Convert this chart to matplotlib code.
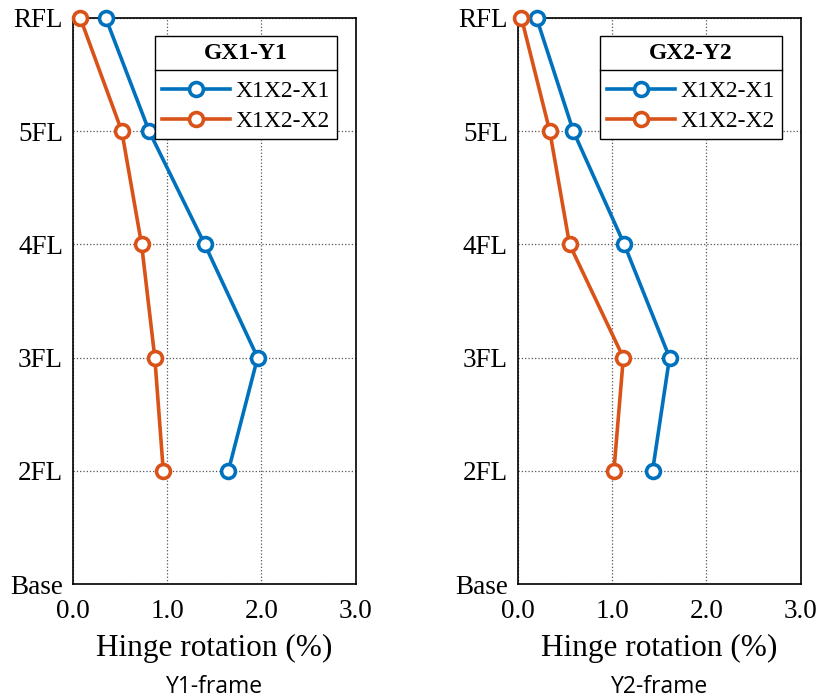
import matplotlib
matplotlib.use("Agg")
import matplotlib.pyplot as plt
from matplotlib.lines import Line2D

# Storey levels (bottom to top)
floors = ["Base", "2FL", "3FL", "4FL", "5FL", "RFL"]
levels = [1, 2, 3, 4, 5]          # 2FL .. RFL
x_ticks = [0.0, 1.0, 2.0, 3.0]

# Hinge rotation (%) at 2FL, 3FL, 4FL, 5FL, RFL
y1_x1 = [1.65, 1.96, 1.40, 0.81, 0.35]
y1_x2 = [0.96, 0.87, 0.73, 0.52, 0.08]
y2_x1 = [1.43, 1.61, 1.13, 0.59, 0.20]
y2_x2 = [1.02, 1.12, 0.55, 0.34, 0.04]

series_names = ["X1X2-X1", "X1X2-X2"]
panel_titles = ["GX1-Y1", "GX2-Y2"]
frame_names = ["Y1-frame", "Y2-frame"]

blue = "#0072BD"
orange = "#D95319"

serif = ["Liberation Serif", "DejaVu Serif"]
sans = ["Open Sans", "DejaVu Sans"]

fig = plt.figure(figsize=(8.19, 7.0), dpi=100)
ax_l = fig.add_axes([0.0888, 0.1657, 0.3455, 0.8086])
ax_r = fig.add_axes([0.6321, 0.1657, 0.3455, 0.8086])

panels = [(ax_l, y1_x1, y1_x2), (ax_r, y2_x1, y2_x2)]
legends = []
for i, (ax, s1, s2) in enumerate(panels):
    for vals, col, name in ((s1, blue, series_names[0]), (s2, orange, series_names[1])):
        ax.plot(vals, levels, color=col, lw=2.6, marker="o", ms=10,
                mfc="white", mec=col, mew=2.6, label=name, clip_on=False, zorder=3)
    ax.set_xlim(0, 3)
    ax.set_ylim(0, 5)
    ax.set_xticks(x_ticks)
    ax.set_xticklabels([f"{v:.1f}" for v in x_ticks], fontfamily=serif, fontsize=19.5)
    ax.set_yticks(range(len(floors)))
    ax.set_yticklabels(floors, fontfamily=serif, fontsize=19.5)
    ax.tick_params(axis="x", length=0, pad=11)
    ax.tick_params(axis="y", length=0, pad=7)
    ax.grid(True, color="#555555", linestyle=":", linewidth=0.9)
    ax.set_axisbelow(True)
    for sp in ax.spines.values():
        sp.set_linewidth(1.2)
    ax.set_xlabel("Hinge rotation (%)", fontfamily=serif, fontsize=22.5, labelpad=7)
    ax.text(0.5, -0.1917, frame_names[i], transform=ax.transAxes, ha="center",
            va="baseline", fontsize=16.5, fontfamily=sans)
    leg = ax.legend(loc="upper right", bbox_to_anchor=(0.934, 0.968), borderaxespad=0,
                    fancybox=False, framealpha=1, edgecolor="black",
                    handlelength=2.85, borderpad=0.3, labelspacing=0.36, handletextpad=0.25,
                    prop={"family": serif, "size": 17},
                    title=panel_titles[i],
                    title_fontproperties={"family": serif, "size": 17, "weight": "bold"})
    leg.get_frame().set_linewidth(1.0)
    leg._legend_box.sep = 12
    legends.append(leg)

# Separator line between legend title and entries
fig.canvas.draw()
renderer = fig.canvas.get_renderer()
inv = fig.transFigure.inverted()
for leg in legends:
    fb = leg.get_frame().get_window_extent(renderer)
    tb = leg.get_title().get_window_extent(renderer)
    y_sep = tb.y0 - 6
    (x0, y0) = inv.transform((fb.x0, y_sep))
    (x1, _) = inv.transform((fb.x1, y_sep))
    fig.add_artist(Line2D([x0, x1], [y0, y0], color="black", lw=1.0,
                          transform=fig.transFigure, zorder=10))

fig.savefig("out.png", dpi=100)
